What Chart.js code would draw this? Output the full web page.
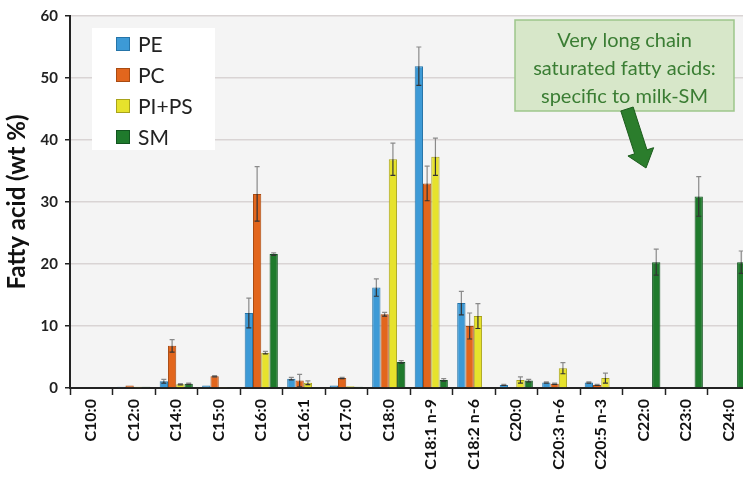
<!DOCTYPE html>
<html>
<head>
<meta charset="utf-8">
<script src="https://cdn.jsdelivr.net/npm/chart.js@4/dist/chart.umd.min.js"></script>
<style>
  html, body { margin: 0; padding: 0; background: #fff; overflow: hidden; }
  #wrap { position: relative; width: 752px; height: 478px; }
</style>
</head>
<body>
<div id="wrap"><canvas id="c"></canvas></div>
<script>
// ---- Data ----
const categories = ['C10:0','C12:0','C14:0','C15:0','C16:0','C16:1','C17:0','C18:0','C18:1 n-9','C18:2 n-6','C20:0','C20:3 n-6','C20:5 n-3','C22:0','C23:0','C24:0'];
const seriesNames = ['PE', 'PC', 'PI+PS', 'SM'];
const PE   = [0, 0.2, 1.1, 0.4, 12.1, 1.5, 0.4, 16.2, 51.9, 13.7, 0.5, 0.9, 0.9, 0, 0, 0];
const PC   = [0, 0.4, 6.8, 1.9, 31.3, 1.2, 1.6, 11.9, 33.0, 10.0, 0.1, 0.7, 0.5, 0, 0, 0];
const PIPS = [0, 0.2, 0.6, 0.1, 5.7, 0.85, 0.3, 36.9, 37.3, 11.6, 1.3, 3.2, 1.6, 0, 0, 0];
const SM   = [0, 0.2, 0.7, 0.1, 21.6, 0.1, 0.2, 4.2, 1.3, 0, 1.2, 0, 0, 20.3, 30.9, 20.3];
const PE_err   = [0, 0, 0.3, 0, 2.4, 0.2, 0, 1.4, 3.1, 1.9, 0.1, 0.1, 0.1, 0, 0, 0];
const PC_err   = [0, 0, 1.0, 0.1, 4.4, 1.0, 0.1, 0.3, 2.8, 2.1, 0, 0.1, 0.1, 0, 0, 0];
const PIPS_err = [0, 0, 0.1, 0, 0.2, 0.3, 0, 2.6, 3.0, 2.0, 0.5, 0.9, 0.8, 0, 0, 0];
const SM_err   = [0, 0, 0.1, 0, 0.2, 0, 0, 0.2, 0.2, 0, 0.2, 0, 0, 2.1, 3.2, 1.8];
const yTicks = [0, 10, 20, 30, 40, 50, 60];
const yTitle = 'Fatty acid (wt %)';
const noteLines = ['Very long chain', 'saturated fatty acids:', 'specific to milk-SM'];

const values = [PE, PC, PIPS, SM];
const errors = [PE_err, PC_err, PIPS_err, SM_err];
const fills = ['#3d9ad6', '#e2661d', '#e6e22c', '#1f7a2c'];
const borders = ['#2574a8', '#a94b12', '#a8a31c', '#125420'];

const datasets = seriesNames.map((n, i) => ({
  label: n,
  data: values[i],
  errors: errors[i],
  backgroundColor: fills[i],
  borderColor: borders[i],
  borderWidth: 1,
  categoryPercentage: 0.78,
  barPercentage: 1.0
}));

const bgPlugin = {
  id: 'bg',
  beforeDraw(chart) {
    const {ctx, chartArea: a} = chart;
    ctx.save();
    ctx.fillStyle = '#ffffff';
    ctx.fillRect(0, 0, chart.width, chart.height);
    ctx.fillStyle = '#f4f4f4';
    ctx.fillRect(a.left, a.top, a.right - a.left, a.bottom - a.top);
    ctx.restore();
  }
};

const errPlugin = {
  id: 'err',
  afterDatasetsDraw(chart) {
    const {ctx} = chart;
    const y = chart.scales.y;
    ctx.save();
    chart.data.datasets.forEach((ds, di) => {
      const meta = chart.getDatasetMeta(di);
      meta.data.forEach((bar, i) => {
        const e = ds.errors[i];
        if (!e) return;
        const v = ds.data[i];
        const top = y.getPixelForValue(v + e);
        const bot = y.getPixelForValue(Math.max(0, v - e));
        const vy = y.getPixelForValue(v);
        ctx.lineWidth = 1.2;
        ctx.strokeStyle = '#8a8a8a';
        ctx.beginPath();
        ctx.moveTo(bar.x, top); ctx.lineTo(bar.x, vy);
        ctx.moveTo(bar.x - 2.5, top); ctx.lineTo(bar.x + 2.5, top);
        ctx.stroke();
        ctx.strokeStyle = '#333';
        ctx.beginPath();
        ctx.moveTo(bar.x, vy); ctx.lineTo(bar.x, bot);
        ctx.moveTo(bar.x - 2.5, bot); ctx.lineTo(bar.x + 2.5, bot);
        ctx.stroke();
      });
    });
    ctx.restore();
  }
};

const overlayPlugin = {
  id: 'overlay',
  afterDraw(chart) {
    const {ctx} = chart;
    ctx.save();
    // legend box
    ctx.fillStyle = '#ffffff';
    ctx.fillRect(92, 28, 123, 122);
    ctx.font = '21px Lato';
    ctx.textBaseline = 'middle';
    ctx.textAlign = 'left';
    chart.data.datasets.forEach((ds, i) => {
      const cy = 44 + i * 31;
      ctx.fillStyle = ds.backgroundColor;
      ctx.fillRect(116, cy - 7, 14, 14);
      ctx.strokeStyle = ds.borderColor;
      ctx.lineWidth = 1;
      ctx.strokeRect(116.5, cy - 6.5, 13, 13);
      ctx.fillStyle = '#222';
      ctx.fillText(ds.label, 138, cy + 1);
    });
    // note box
    ctx.fillStyle = '#d7e7c9';
    ctx.fillRect(515, 20, 219, 91);
    ctx.strokeStyle = '#9dc68a';
    ctx.lineWidth = 1.5;
    ctx.strokeRect(515, 20, 219, 91);
    ctx.fillStyle = '#3a7d33';
    ctx.font = '20px Lato';
    ctx.textAlign = 'center';
    noteLines.forEach((t, i) => ctx.fillText(t, 624.5, 41 + i * 28));
    // arrow
    const x0 = 627, y0 = 109, x1 = 646, y1 = 168;
    const dx = x1 - x0, dy = y1 - y0, L = Math.hypot(dx, dy);
    const ux = dx / L, uy = dy / L, px = -uy, py = ux;
    const hl = 17, sw = 6.5, hw = 13.5;
    const bx = x1 - ux * hl, by = y1 - uy * hl;
    ctx.beginPath();
    ctx.moveTo(x0 + px * sw, y0 + py * sw);
    ctx.lineTo(bx + px * sw, by + py * sw);
    ctx.lineTo(bx + px * hw, by + py * hw);
    ctx.lineTo(x1, y1);
    ctx.lineTo(bx - px * hw, by - py * hw);
    ctx.lineTo(bx - px * sw, by - py * sw);
    ctx.lineTo(x0 - px * sw, y0 - py * sw);
    ctx.closePath();
    ctx.fillStyle = '#2b7d2c';
    ctx.fill();
    ctx.strokeStyle = '#1c5c1d';
    ctx.lineWidth = 1;
    ctx.stroke();
    ctx.restore();
  }
};

new Chart(document.getElementById('c'), {
  type: 'bar',
  data: { labels: categories, datasets },
  options: {
    responsive: true,
    maintainAspectRatio: false,
    animation: false,
    layout: { padding: { top: 14, left: 0, right: 0, bottom: 0 } },
    plugins: { legend: { display: false }, tooltip: { enabled: false } },
    scales: {
      x: {
        offset: true,
        grid: { drawOnChartArea: false, drawTicks: true, tickLength: 7, tickColor: '#222', tickWidth: 1.5, offset: true },
        border: { display: true, color: '#222', width: 2 },
        ticks: {
          autoSkip: false, minRotation: 90, maxRotation: 90, padding: 4,
          color: '#111', font: { family: 'Lato', weight: 'bold', size: 16 }
        },
        afterFit(s) { s.height = 90; }
      },
      y: {
        min: 0, max: 60,
        afterBuildTicks(s) { s.ticks = yTicks.map(v => ({ value: v })); },
        grid: { color: '#d9d4d4', lineWidth: 1.5, tickColor: '#222', tickLength: 5, tickWidth: 1.5 },
        border: { display: true, color: '#222', width: 2 },
        ticks: { padding: 7, color: '#222', font: { family: 'Lato', weight: 'bold', size: 15 } },
        title: { display: true, text: yTitle, color: '#111', padding: { top: 3, bottom: 0 },
                 font: { family: 'Lato', weight: 'bold', size: 24 } },
        afterFit(s) { s.width = 70; }
      }
    }
  },
  plugins: [bgPlugin, errPlugin, overlayPlugin]
});
</script>
</body>
</html>
